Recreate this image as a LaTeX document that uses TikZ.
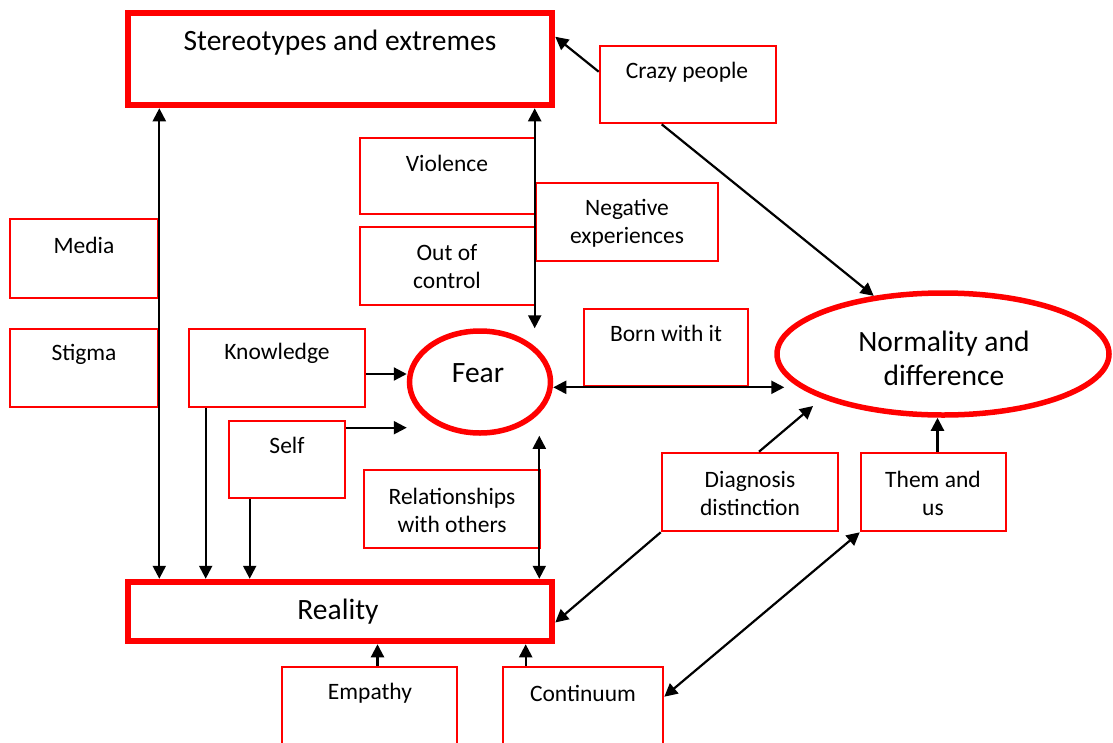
\documentclass[tikz,border=0pt]{standalone}
\usepackage{fontspec}
\setmainfont{Carlito}
\usetikzlibrary{arrows.meta,fit,shapes.geometric,calc}
\begin{document}
\begin{tikzpicture}[x=1pt,y=-1pt,
  box/.style={draw=red, line width=2.6pt, inner sep=0pt},
  mainbox/.style={draw=red, line width=6.5pt, inner sep=0pt},
  hub/.style={ellipse, draw=red, line width=5.5pt, inner sep=0pt},
  lbl/.style={font=\fontsize{23.5}{28}\selectfont, align=center, inner sep=0pt},
  biglbl/.style={font=\fontsize{29.5}{34}\selectfont, align=center, inner sep=0pt},
  tip/.style={Triangle[length=13pt,width=13pt]},
  link/.style={line width=2.2pt, -{Triangle[length=13pt,width=13pt]}},
  dlink/.style={line width=2.2pt, {Triangle[length=13pt,width=13pt]}-{Triangle[length=13pt,width=13pt]}},
]
\useasboundingbox (0,0) rectangle (1113,742);
\clip (0,0) rectangle (1113,742);

% main frames
\node[mainbox, fit={(128,13) (552,105)}] (stereo) {};
\node[mainbox, fit={(128,582) (552,641)}] (reality) {};
\node[hub, minimum width=141pt, minimum height=102pt] (fear) at (480,382) {};
\node[hub, minimum width=332pt, minimum height=122pt] (normal) at (943,354) {};

% theme boxes
\node[box, fit={(600,46) (776,123)}] (crazy) {};
\node[box, fit={(360,138) (535,214)}] (violence) {};
\node[box, fit={(536,183) (718,261)}] (negexp) {};
\node[box, fit={(360,227) (535,305)}] (outctrl) {};
\node[box, fit={(10,219) (158,298)}] (media) {};
\node[box, fit={(10,329) (158,407)}] (stigma) {};
\node[box, fit={(189,329) (365,407)}] (knowledge) {};
\node[box, fit={(229,421) (345,498)}] (self) {};
\node[box, fit={(584,309) (748,386)}] (bornwith) {};
\node[box, fit={(364,470) (540,548)}] (rel) {};
\node[box, fit={(662,453) (838,531)}] (diag) {};
\node[box, fit={(861,453) (1006,531)}] (them) {};
\node[box, fit={(282,667) (457,770)}] (empathy) {};
\node[box, fit={(503,667) (663,770)}] (cont) {};

% labels
\node[biglbl] (stereoT) at (340,43) {Stereotypes and extremes};
\node[lbl] (crazyT) at (687,72) {Crazy people};
\node[lbl] (violenceT) at (447,163) {Violence};
\node[lbl] (negexpT) at (627,223) {Negative\\experiences};
\node[lbl] (outctrlT) at (447,267) {Out of\\control};
\node[lbl] (mediaT) at (84,245) {Media};
\node[lbl] (stigmaT) at (84,354) {Stigma};
\node[lbl] (knowledgeT) at (277,353) {Knowledge};
\node[biglbl] (fearT) at (478,373) {Fear};
\node[lbl] (bornwithT) at (666,333) {Born with it};
\node[biglbl] (normalT) at (944,358) {Normality and\\difference};
\node[lbl] (selfT) at (287,445) {Self};
\node[lbl] (relT) at (452,510) {Relationships\\with others};
\node[lbl] (diagT) at (750,493) {Diagnosis\\distinction};
\node[lbl] (themT) at (933,493) {Them and\\us};
\node[biglbl] (realityT) at (338,612) {Reality};
\node[lbl] (empathyT) at (370,693) {Empathy};
\node[lbl] (contT) at (583,693) {Continuum};

% connectors
\draw[dlink] (media.east |- stereo.south) -- (media.east |- reality.north);
\coordinate (kd) at ($(knowledge.south west)+(18,0)$);
\draw[link] (kd) -- (kd |- reality.north);
\coordinate (sd) at ($(self.south west)+(22,0)$);
\draw[link] (sd) -- (sd |- reality.north);
\draw[dlink] (negexp.west |- stereo.south) -- (negexp.west |- fear.north);
\coordinate (ra) at ($(rel.north east)+(-2,0)$);
\draw[dlink] (ra |- fear.south) -- (ra |- reality.north);
\coordinate (ke) at ($(knowledge.east)+(0,6)$);
\draw[link] (ke) -- (ke -| fear.west);
\coordinate (se) at ($(self.north east)+(0,8)$);
\draw[link] (se) -- (se -| fear.west);
\coordinate (bt) at ($(bornwith.south east)+(35,0)$);
\draw[dlink] (bornwith.south -| fear.east) -- (bt);
\draw[link] ($(crazy.north west)+(0,27)$) -- ($(stereo.north east)+(0,27)$);
\draw[link] ($(crazy.south west)+(63,0)$) -- (normal.140);
\coordinate (dn) at (813,406);
\draw[link] ($(diag.north)+(9,0)$) -- (dn);
\coordinate (tn) at ($(them.north)+(4,0)$);
\draw[link] (tn) -- (tn |- normal.south);
\draw[link] (diag.south west) -- ($(reality.east)+(0,11)$);
\draw[dlink] (them.south west) -- ($(cont.north east)+(0,31)$);
\coordinate (ea) at ($(empathy.north)+(8,0)$);
\draw[link] (ea) -- (ea |- reality.south);
\coordinate (ca) at ($(cont.north west)+(24,0)$);
\draw[link] (ca) -- (ca |- reality.south);
\end{tikzpicture}
\end{document}
